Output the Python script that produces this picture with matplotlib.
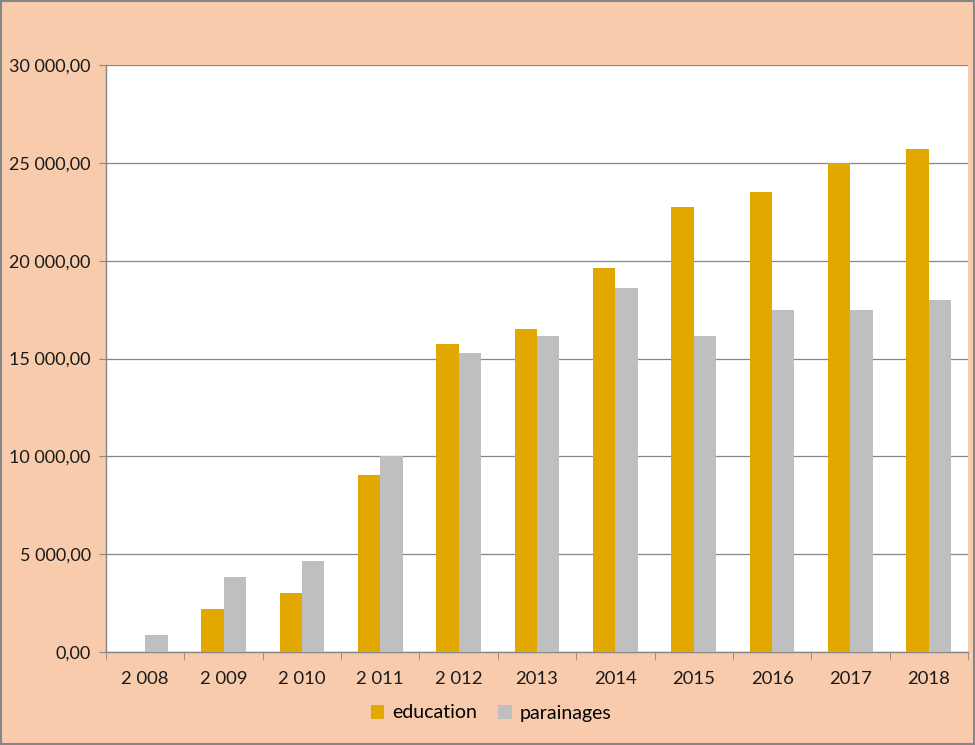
#!/usr/bin/env python3

# Bar chart: education vs parainages per year
import matplotlib.pyplot as plt
import numpy as np
from matplotlib.patches import Rectangle

# Data
years = ['2 008', '2 009', '2 010', '2 011', '2 012', '2013', '2014', '2015', '2016', '2017', '2018']
education = [0, 2200, 3000, 9050, 15750, 16500, 19650, 22750, 23500, 25000, 25700]
parainages = [850, 3850, 4650, 10000, 15300, 16150, 18600, 16150, 17500, 17500, 18000]
y_ticks = [0, 5000, 10000, 15000, 20000, 25000, 30000]

plt.rcParams['font.family'] = ['Lato', 'DejaVu Sans']

bg = '#F8CBAD'
gold = '#E3A800'
grey = '#BFBFBF'
line_col = '#868686'

fig = plt.figure(figsize=(9.75, 7.45), dpi=100, facecolor=bg)
ax = fig.add_axes([106 / 975, 1 - 652 / 745, 862 / 975, 587 / 745])
ax.set_facecolor('white')

x = np.arange(len(years))
w = 1 / 3.5
ax.bar(x - w / 2, education, width=w, color=gold, label='education', zorder=3)
ax.bar(x + w / 2, parainages, width=w, color=grey, label='parainages', zorder=3)

ax.set_xlim(-0.5, len(years) - 0.5)
ax.set_ylim(0, 30000)

# y axis ticks, french number format
ax.set_yticks(y_ticks)
ax.set_yticklabels([f'{v:,.2f}'.replace(',', ' ').replace('.', ',') for v in y_ticks])
ax.yaxis.grid(True, color=line_col, linewidth=0.9, zorder=0)
ax.tick_params(axis='y', length=5, color=line_col, labelsize=13, pad=6, labelcolor='#1a1a1a')

# x axis: labels centred, tick marks between categories
ax.set_xticks(x)
ax.set_xticklabels(years)
ax.tick_params(axis='x', length=0, labelsize=13.3, pad=14, labelcolor='#1a1a1a')
ax.set_xticks(np.arange(-0.5, len(years), 1), minor=True)
ax.tick_params(axis='x', which='minor', length=6, color=line_col, direction='out')

for side in ['top', 'right']:
    ax.spines[side].set_visible(False)
for side in ['left', 'bottom']:
    ax.spines[side].set_color(line_col)
    ax.spines[side].set_linewidth(1)

ax.legend(loc='center', bbox_to_anchor=(491 / 975, 1 - 713 / 745), bbox_transform=fig.transFigure,
          ncol=2, frameon=False, fontsize=14, handlelength=0.7, handleheight=0.7,
          handletextpad=0.4, columnspacing=1.1)

# grey frame around whole figure
fig.patches.append(Rectangle((0.001, 0.001), 0.998, 0.998, transform=fig.transFigure,
                             fill=False, edgecolor=line_col, linewidth=1.5))

fig.savefig('out.png', dpi=100, facecolor=bg)
